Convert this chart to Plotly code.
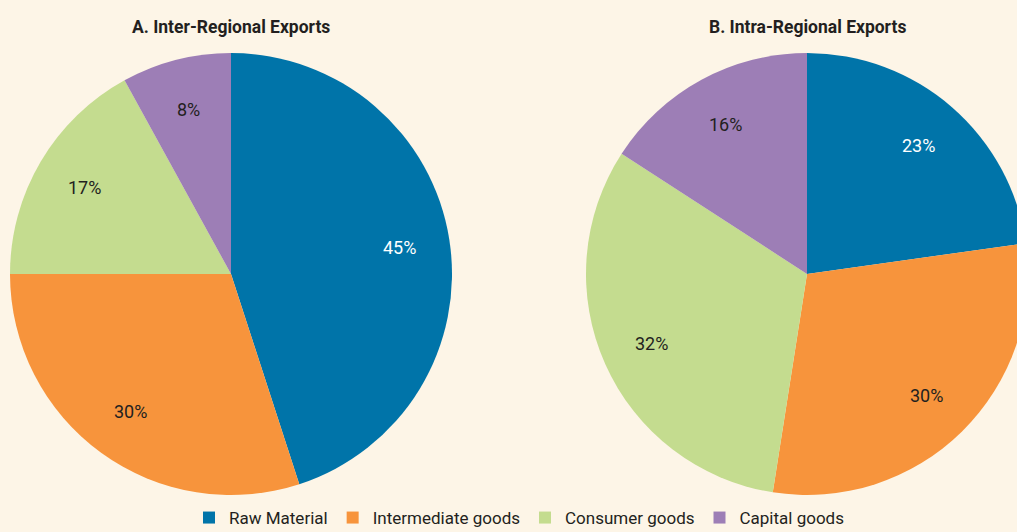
import math
import plotly.graph_objects as go

categories = ["Raw Material", "Intermediate goods", "Consumer goods", "Capital goods"]
inter_values = [45, 30, 17, 8]
intra_values = [23, 30, 32, 16]
titles = ["A. Inter-Regional Exports", "B. Intra-Regional Exports"]
colors = ["#0074A9", "#F7943C", "#C4DC8F", "#9D7EB6"]
label_colors = ["white", "#231F20", "#231F20", "#231F20"]

W, H = 1040, 536
R = 221
CENTERS = [(231, 274), (807, 274)]
FONT = "Roboto, Lato, sans-serif"

def dom(cx, cy, r):
    return dict(x=[(cx - r) / W, (cx + r) / W], y=[(H - cy - r) / H, (H - cy + r) / H])

fig = go.Figure()
for i, (vals, (cx, cy)) in enumerate(zip([inter_values, intra_values], CENTERS)):
    fig.add_trace(go.Pie(
        labels=categories, values=vals, sort=False, direction="clockwise",
        rotation=0, marker=dict(colors=colors, line=dict(width=0)),
        textinfo="none", domain=dom(cx, cy, R), hoverinfo="label+percent",
        showlegend=(i == 0),
    ))
    # percentage labels placed along each slice's mid-angle
    total = sum(vals)
    cum = 0
    for v, col in zip(vals, label_colors):
        mid = (cum + v / 2) / total * 2 * math.pi
        cum += v
        px = cx + 0.77 * R * math.sin(mid)
        py = cy - 0.77 * R * math.cos(mid)
        fig.add_annotation(text=f"{round(v / total * 100)}%", x=px / W, y=(H - py) / H,
                           xref="paper", yref="paper", showarrow=False,
                           xanchor="center", yanchor="middle",
                           font=dict(family=FONT, size=18, color=col))

for t, (cx, cy) in zip(titles, CENTERS):
    fig.add_annotation(text="<b>" + t + "</b>", x=cx / W, y=(H - 27) / H,
                       xref="paper", yref="paper", showarrow=False,
                       xanchor="center", yanchor="middle",
                       font=dict(family=FONT, size=17.5, color="#231F20"))

fig.update_layout(
    width=W, height=H, margin=dict(l=0, r=0, t=0, b=0),
    paper_bgcolor="#FDF5E7", plot_bgcolor="#FDF5E7",
    font=dict(family=FONT, color="#231F20"),
    legend=dict(orientation="h", x=519 / W, xanchor="center", y=0, yanchor="bottom",
                font=dict(family=FONT, size=17, color="#231F20"), bgcolor="rgba(0,0,0,0)",
                traceorder="normal", itemclick=False),
)

fig.write_html("out.html", config={"displayModeBar": False},
               post_script="document.body.style.margin='0';document.body.style.overflow='hidden';document.documentElement.style.overflow='hidden';")
